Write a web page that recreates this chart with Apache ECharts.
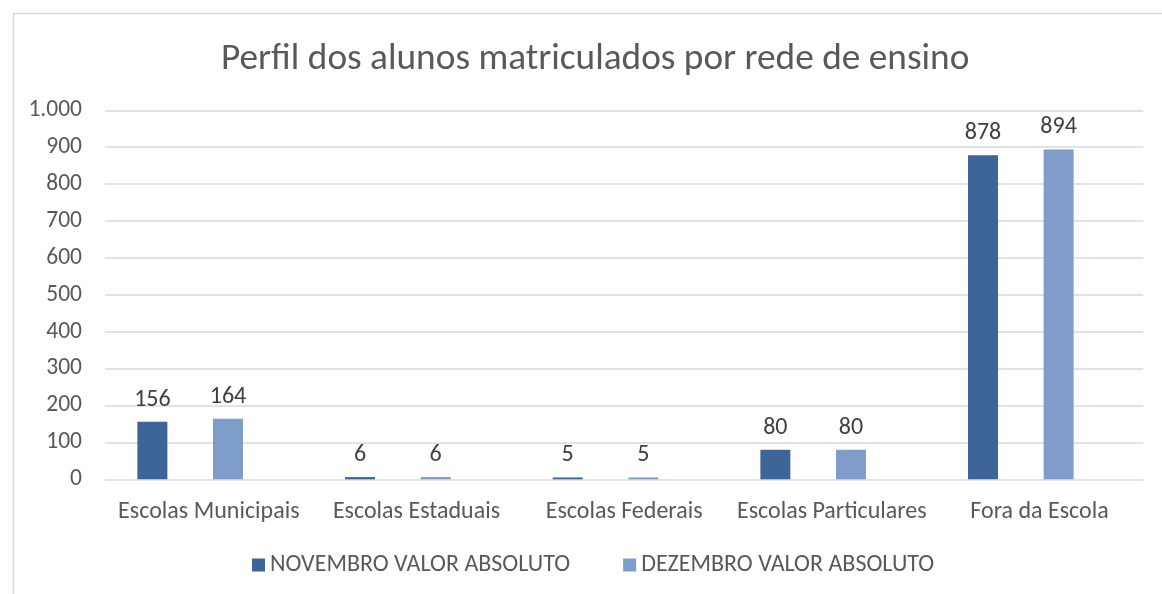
<!DOCTYPE html>
<html>
<head>
<meta charset="utf-8">
<script src="https://cdn.jsdelivr.net/npm/echarts@6/dist/echarts.min.js"></script>
<style>
html,body{margin:0;padding:0;background:#fff;}
#chart{width:1162px;height:594px;}
</style>
</head>
<body>
<div id="chart"></div>
<script>
const title = 'Perfil dos alunos matriculados por rede de ensino';
const categories = ['Escolas Municipais', 'Escolas Estaduais', 'Escolas Federais', 'Escolas Particulares', 'Fora da Escola'];
const seriesNames = ['NOVEMBRO VALOR ABSOLUTO', 'DEZEMBRO VALOR ABSOLUTO'];
const novembro = [156, 6, 5, 80, 878];
const dezembro = [164, 6, 5, 80, 894];
const yTicks = [0, 100, 200, 300, 400, 500, 600, 700, 800, 900, 1000];

const FONT = 'Carlito, Calibri, Lato, sans-serif';
const TXT = '#595959';
const colors = ['#3d6597', '#7f9dc9'];

function fmt(v) {
  return String(v).replace(/\B(?=(\d{3})+(?!\d))/g, '.');
}

const chart = echarts.init(document.getElementById('chart'), null, {renderer: 'canvas'});
const option = {
  backgroundColor: '#ffffff',
  animation: false,
  color: colors,
  textStyle: {fontFamily: FONT},
  graphic: [{
    type: 'rect', left: 11, top: 11, silent: true,
    shape: {width: 1300, height: 800},
    style: {fill: 'none', stroke: '#d9d9d9', lineWidth: 1.5}
  }],
  title: {
    text: title,
    left: 216,
    top: 36,
    textStyle: {fontFamily: FONT, fontSize: 37.3, fontWeight: 'normal', color: TXT}
  },
  legend: {
    data: seriesNames,
    bottom: 12,
    left: 247,
    itemWidth: 13,
    itemHeight: 13,
    itemGap: 53,
    icon: 'rect',
    textStyle: {fontFamily: FONT, fontSize: 24, color: TXT, padding: [0, 0, 0, 0]}
  },
  grid: [
    {left: 105, right: 18.7, top: 110.3, height: 369, containLabel: false},
    {left: 86.35, right: 37.35, top: 110.3, height: 369, containLabel: false}
  ],
  xAxis: [
    {
      type: 'category', gridIndex: 0, data: categories,
      axisLine: {show: false}, axisTick: {show: false},
      axisLabel: {fontFamily: FONT, fontSize: 24, color: TXT, margin: 21, interval: 0}
    },
    {
      type: 'category', gridIndex: 1, data: categories, show: false
    }
  ],
  yAxis: [
    {
      type: 'value', gridIndex: 0, min: 0, max: 1000, interval: 100,
      axisLine: {show: false}, axisTick: {show: false},
      splitLine: {lineStyle: {color: '#d9d9d9', width: 1.5}},
      axisLabel: {fontFamily: FONT, fontSize: 23.5, color: TXT, margin: 23,
        formatter: function (v) { return yTicks.indexOf(v) >= 0 ? fmt(v) : ''; }}
    },
    {
      type: 'value', gridIndex: 1, min: 0, max: 1000, interval: 100, show: false,
      splitLine: {show: false}
    }
  ],
  series: [
    {
      name: seriesNames[0], type: 'bar', xAxisIndex: 1, yAxisIndex: 1,
      data: novembro, barWidth: 30, barGap: '152%',
      itemStyle: {color: colors[0]},
      label: {show: true, position: 'top', distance: 10, fontFamily: FONT, fontSize: 24, color: '#404040'}
    },
    {
      name: seriesNames[1], type: 'bar', xAxisIndex: 1, yAxisIndex: 1,
      data: dezembro, barWidth: 30, barGap: '152%',
      itemStyle: {color: colors[1]},
      label: {show: true, position: 'top', distance: 10, fontFamily: FONT, fontSize: 24, color: '#404040'}
    }
  ]
};
chart.setOption(option);
</script>
</body>
</html>
